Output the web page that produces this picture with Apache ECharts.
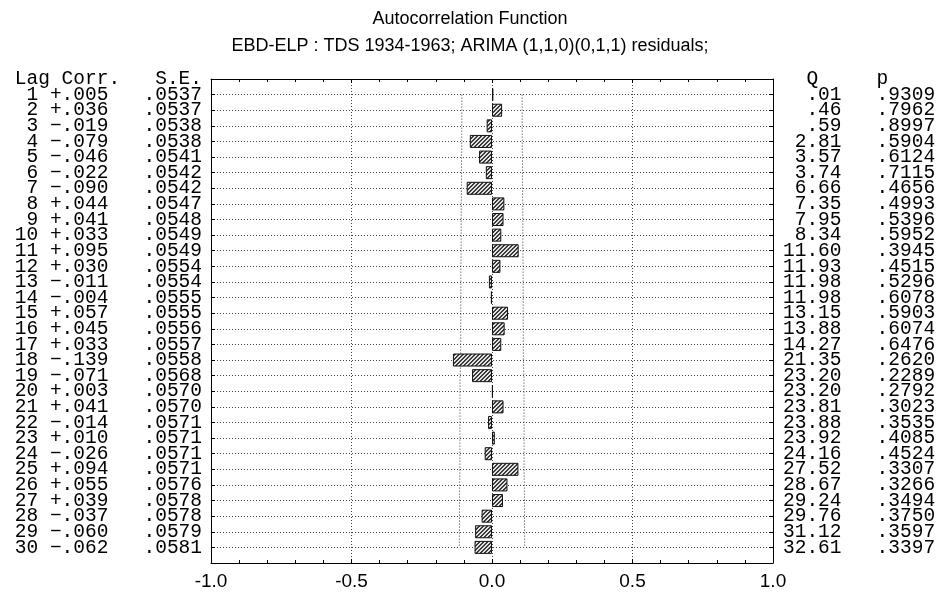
<!DOCTYPE html>
<html>
<head>
<meta charset="utf-8">
<script src="https://cdn.jsdelivr.net/npm/echarts@6/dist/echarts.min.js"></script>
<style>
html,body{margin:0;padding:0;background:#fff;}
#chart{width:940px;height:596px;}
</style>
</head>
<body>
<div id="chart"></div>
<script>
// ---- data ----
const lags = [1,2,3,4,5,6,7,8,9,10,11,12,13,14,15,16,17,18,19,20,21,22,23,24,25,26,27,28,29,30];
const corr = [0.005,0.036,-0.019,-0.079,-0.046,-0.022,-0.090,0.044,0.041,0.033,0.095,0.030,-0.011,-0.004,0.057,0.045,0.033,-0.139,-0.071,0.003,0.041,-0.014,0.010,-0.026,0.094,0.055,0.039,-0.037,-0.060,-0.062];
const se = [0.0537,0.0537,0.0538,0.0538,0.0541,0.0542,0.0542,0.0547,0.0548,0.0549,0.0549,0.0554,0.0554,0.0555,0.0555,0.0556,0.0557,0.0558,0.0568,0.0570,0.0570,0.0571,0.0571,0.0571,0.0571,0.0576,0.0578,0.0578,0.0579,0.0581];
const qStat = [0.01,0.46,0.59,2.81,3.57,3.74,6.66,7.35,7.95,8.34,11.60,11.93,11.98,11.98,13.15,13.88,14.27,21.35,23.20,23.20,23.81,23.88,23.92,24.16,27.52,28.67,29.24,29.76,31.12,32.61];
const pVal = [0.9309,0.7962,0.8997,0.5904,0.6124,0.7115,0.4656,0.4993,0.5396,0.5952,0.3945,0.4515,0.5296,0.6078,0.5903,0.6074,0.6476,0.2620,0.2289,0.2792,0.3023,0.3535,0.4085,0.4524,0.3307,0.3266,0.3494,0.3750,0.3597,0.3397];
const xTicks = [-1.0,-0.5,0.0,0.5,1.0];
const titleText = 'Autocorrelation Function';
const subtitleText = 'EBD-ELP : TDS 1934-1963; ARIMA (1,1,0)(0,1,1) residuals;';
const leftHeader = 'Lag Corr.   S.E.';
const rightHeader = '  Q     p';

// ---- helpers ----
const n = lags.length;
const cats = [''].concat(lags.map(String)).concat(['']);
function fmtDec(v, d) { // .0537 style (drop leading zero)
  let s = Math.abs(v).toFixed(d);
  if (s.startsWith('0')) s = s.slice(1);
  return s;
}
function fmtCorr(v) { return (v >= 0 ? '+' : '\u2212') + fmtDec(v, 3); }

function leftLabel(val, idx) {
  if (idx === 0) return leftHeader;
  if (idx > n) return '';
  const i = idx - 1;
  return String(lags[i]).padStart(2) + ' ' + fmtCorr(corr[i]) + '   ' + fmtDec(se[i], 4);
}
function rightLabel(val, idx) {
  if (idx === 0) return rightHeader;
  if (idx > n) return '';
  const i = idx - 1;
  return fmtDec(qStat[i], 2).padStart(5) + '   ' + fmtDec(pVal[i], 4);
}

// hatch pattern
const pat = document.createElement('canvas');
pat.width = 4; pat.height = 4;
(function(){
  const c = pat.getContext('2d');
  const img = c.createImageData(4, 4);
  for (let y = 0; y < 4; y++) for (let x = 0; x < 4; x++) {
    const k = (y * 4 + x) * 4;
    const dark = ((x + y) % 4) < 2;
    const g = dark ? 0x3a : 0xe4;
    img.data[k] = g; img.data[k+1] = g; img.data[k+2] = g; img.data[k+3] = 255;
  }
  c.putImageData(img, 0, 0);
})();

const barData = cats.map((c, i) => (i >= 1 && i <= n) ? corr[i - 1] : '-');
const upper = lags.map((l, i) => [2 * se[i], i + 1]);
const lower = lags.map((l, i) => [-2 * se[i], i + 1]);

const mono = "'Liberation Mono', 'Courier New', monospace";
const sans = "'Liberation Sans', Arial, sans-serif";
const dotted = { color: '#444', width: 1, type: [1, 2] };

const chart = echarts.init(document.getElementById('chart'), null, { renderer: 'canvas' });
chart.setOption({
  animation: false,
  backgroundColor: '#fff',
  title: [
    { text: titleText, left: 'center', top: 5, textStyle: { fontFamily: sans, fontSize: 18, fontWeight: 'normal', color: '#000' } },
    { text: subtitleText, left: 'center', top: 32, textStyle: { fontFamily: sans, fontSize: 18, fontWeight: 'normal', color: '#000' } }
  ],
  grid: { left: 211, right: 167, top: 79, bottom: 33, containLabel: false, outerBoundsMode: 'none' },
  xAxis: [
    {
      type: 'value', position: 'bottom', min: xTicks[0], max: xTicks[xTicks.length - 1], interval: 0.5,
      axisLine: { show: true, onZero: false, lineStyle: { color: '#000', width: 1 } },
      axisTick: { show: true, inside: true, length: 4, lineStyle: { color: '#000' } },
      minorTick: { show: true, splitNumber: 5, length: 3, lineStyle: { color: '#000' } },
      axisLabel: { margin: 9, fontFamily: sans, fontSize: 19, color: '#000', formatter: v => v.toFixed(1) },
      splitLine: { show: true, lineStyle: dotted }
    },
    {
      type: 'value', position: 'top', min: xTicks[0], max: xTicks[xTicks.length - 1], interval: 0.5,
      axisLine: { show: true, onZero: false, lineStyle: { color: '#000', width: 1 } },
      axisTick: { show: true, inside: true, length: 4, lineStyle: { color: '#000' } },
      minorTick: { show: true, splitNumber: 5, length: 3, lineStyle: { color: '#000' } },
      axisLabel: { show: false },
      splitLine: { show: false }
    }
  ],
  yAxis: [
    {
      type: 'category', data: cats, inverse: true, boundaryGap: false, position: 'left',
      axisLine: { show: true, onZero: false, lineStyle: { color: '#000', width: 1 } },
      axisTick: { show: true, inside: true, length: 4, interval: 0, lineStyle: { color: '#000' } },
      axisLabel: { interval: 0, margin: 9, fontFamily: mono, fontSize: 19.5, color: '#000', formatter: leftLabel },
      splitLine: { show: true, interval: 0, lineStyle: dotted }
    },
    {
      type: 'category', data: cats, inverse: true, boundaryGap: false, position: 'right',
      axisLine: { show: true, onZero: false, lineStyle: { color: '#000', width: 1 } },
      axisTick: { show: true, inside: true, length: 4, interval: 0, lineStyle: { color: '#000' } },
      axisLabel: { interval: 0, margin: 10, fontFamily: mono, fontSize: 19.5, color: '#000', formatter: rightLabel },
      splitLine: { show: false }
    }
  ],
  series: [
    {
      type: 'line', xAxisIndex: 0, yAxisIndex: 0, data: upper, symbol: 'none', z: 2,
      lineStyle: { color: '#333', width: 1, type: [1, 2] }
    },
    {
      type: 'line', xAxisIndex: 0, yAxisIndex: 0, data: lower, symbol: 'none', z: 2,
      lineStyle: { color: '#333', width: 1, type: [1, 2] }
    },
    {
      type: 'bar', xAxisIndex: 0, yAxisIndex: 0, data: barData, barWidth: 13, z: 5,
      itemStyle: { color: { image: pat, repeat: 'repeat' }, borderColor: '#111', borderWidth: 1 }
    }
  ]
});
</script>
</body>
</html>
